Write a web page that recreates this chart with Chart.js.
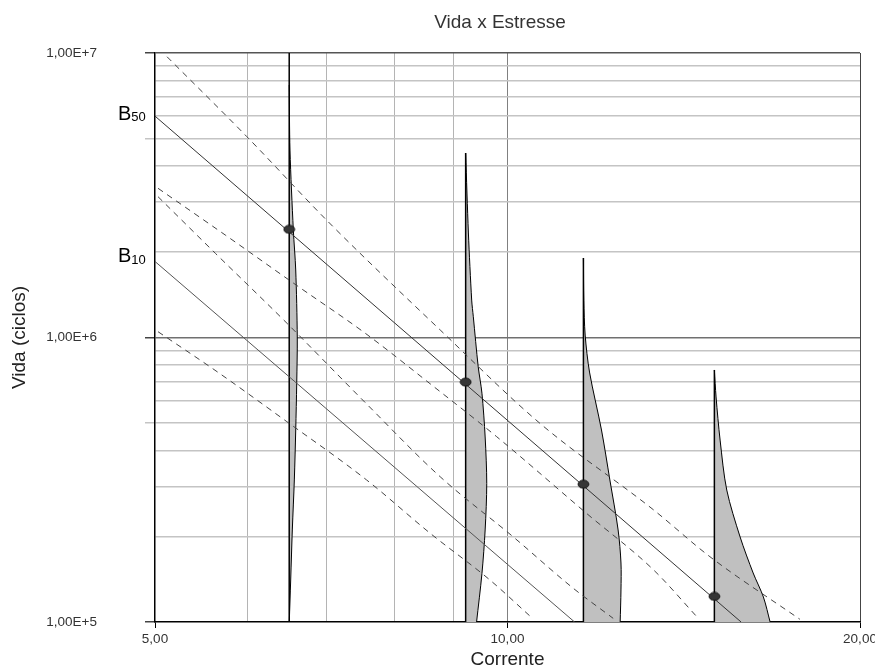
<!DOCTYPE html>
<html>
<head>
<meta charset="utf-8">
<script src="https://cdn.jsdelivr.net/npm/chart.js@4.4.1/dist/chart.umd.min.js"></script>
<style>
  html, body { margin: 0; padding: 0; background: #fff; }
  #wrap { width: 875px; height: 667px; }
</style>
</head>
<body>
<div id="wrap"><canvas id="chart"></canvas></div>
<script>
// eixos
const xTicks = [5, 6, 7, 8, 9, 10, 20];
const xLabeled = [5, 10, 20];
const yTicks = [1e5, 2e5, 3e5, 4e5, 5e5, 6e5, 7e5, 8e5, 9e5,
                1e6, 2e6, 3e6, 4e6, 5e6, 6e6, 7e6, 8e6, 9e6, 1e7];
const yLabeled = [1e5, 1e6, 1e7];
const yMin = 1e5, yMax = 1e7;

// niveis de corrente e vida mediana
const stressLevels = [6.51, 9.21, 11.61, 15.02];
const medianLife = [2.40e6, 6.97e5, 3.05e5, 1.23e5];

// retas B50 e B10
const b50X = [5, 15.83];
const b50Y = [6.0e6, 1.0e5];
const b10X = [5, 11.41];
const b10Y = [1.85e6, 1.0e5];

// limites de confianca (tracejado)
const b50UpX = [5.12, 5.99, 7.03, 8.76, 10.66, 13.33, 14.89, 17.77];
const b50UpY = [9.70e6, 5.08e6, 2.55e6, 1.063e6, 4.99e5, 2.476e5, 1.696e5, 1.022e5];
const b50LoX = [5.03, 5.74, 6.63, 7.56, 8.65, 9.79, 11.68, 13.33, 14.51];
const b50LoY = [3.345e6, 2.293e6, 1.509e6, 1.035e6, 6.72e5, 4.48e5, 2.41e5, 1.523e5, 1.044e5];
const b10UpX = [5.03, 5.63, 6.44, 7.58, 8.76, 10.11, 11.38, 12.31];
const b10UpY = [3.125e6, 1.977e6, 1.152e6, 5.84e5, 3.24e5, 1.994e5, 1.314e5, 1.030e5];
const b10LoX = [5.03, 5.65, 6.48, 7.58, 8.59, 9.66, 10.45];
const b10LoY = [1.048e6, 7.58e5, 5.06e5, 3.157e5, 2.05e5, 1.405e5, 1.05e5];

// curvas de densidade (borda direita)
const pdf1X = [6.51, 6.52, 6.563, 6.594, 6.614, 6.607, 6.594, 6.576, 6.55, 6.529, 6.511];
const pdf1Y = [7.72e6, 4.56e6, 2.387e6, 1.727e6, 1.004e6, 6.92e5, 4.73e5, 3.157e5, 2.106e5, 1.405e5, 1e5];
const pdf2X = [9.21, 9.26, 9.32, 9.35, 9.44, 9.51, 9.57, 9.60, 9.57, 9.51, 9.41];
const pdf2Y = [4.45e6, 2.33e6, 1.354e6, 1.183e6, 7.90e5, 6.37e5, 4.47e5, 3.07e5, 2.106e5, 1.48e5, 1e5];
const pdf3X = [11.61, 11.62, 11.65, 11.75, 12.03, 12.23, 12.43, 12.50, 12.50, 12.48];
const pdf3Y = [1.903e6, 1.35e6, 1.02e6, 7.56e5, 4.73e5, 3.157e5, 2.106e5, 1.612e5, 1.296e5, 1e5];
const pdf4X = [15.02, 15.07, 15.19, 15.39, 15.80, 16.21, 16.54, 16.76];
const pdf4Y = [7.69e5, 6.18e5, 4.36e5, 2.91e5, 1.99e5, 1.487e5, 1.224e5, 1e5];
const pdfTop = [1e7, 4.45e6, 1.903e6, 7.69e5];

const FONT = "'Liberation Sans', Arial, sans-serif";

function pts(xs, ys) {
  return xs.map((x, i) => ({ x: x, y: ys[i] }));
}

// marcador eliptico
function makeDot() {
  const c = document.createElement("canvas");
  c.width = 13; c.height = 10;
  const g = c.getContext("2d");
  g.beginPath();
  g.ellipse(6.5, 5, 5.4, 4, 0, 0, Math.PI * 2);
  g.fillStyle = "#363636";
  g.fill();
  g.lineWidth = 1;
  g.strokeStyle = "#111";
  g.stroke();
  return c;
}

function lineSet(data, color, dash, width) {
  return {
    data: data, showLine: true, borderColor: color, borderWidth: width || 1,
    borderDash: dash || [], pointRadius: 0, fill: false, order: 1,
    cubicInterpolationMode: "monotone",
  };
}

const pdfSets = [[pdf1X, pdf1Y], [pdf2X, pdf2Y], [pdf3X, pdf3Y], [pdf4X, pdf4Y]];

const datasets = [
  {
    data: pts(stressLevels, medianLife), pointStyle: makeDot(), pointRadius: 5,
    showLine: false, order: 0,
  },
  lineSet(pts(b50X, b50Y), "#333"),
  lineSet(pts(b10X, b10Y), "#555"),
  lineSet(pts(b50UpX, b50UpY), "#444", [6, 5]),
  lineSet(pts(b50LoX, b50LoY), "#444", [6, 5]),
  lineSet(pts(b10UpX, b10UpY), "#444", [6, 5]),
  lineSet(pts(b10LoX, b10LoY), "#444", [6, 5]),
];

pdfSets.forEach(([xs, ys], i) => {
  datasets.push({
    data: pts(xs, ys), showLine: true, borderColor: "#000", borderWidth: 1,
    pointRadius: 0, tension: 0.3, fill: false, order: 3,
    pdfBase: stressLevels[i], pdfColor: "#c0c0c0",
  });
  datasets.push({
    data: [{ x: stressLevels[i], y: pdfTop[i] }, { x: stressLevels[i], y: yMin }],
    showLine: true, borderColor: "#000", borderWidth: 1.5, pointRadius: 0, order: 2,
  });
});

// preenchimento cinza das densidades
const pdfFill = {
  id: "pdfFill",
  beforeDatasetDraw(chart, args) {
    const ds = chart.data.datasets[args.index];
    if (ds.pdfBase === undefined) return;
    const line = args.meta.dataset;
    if (line && typeof line.updateControlPoints === "function") {
      line.updateControlPoints(chart.chartArea);
    }
    const p = args.meta.data;
    const xs = chart.scales.x, ys = chart.scales.y;
    const a = chart.chartArea;
    const ctx = chart.ctx;
    ctx.save();
    ctx.beginPath();
    ctx.rect(a.left, a.top, a.right - a.left, a.bottom - a.top);
    ctx.clip();
    ctx.beginPath();
    ctx.moveTo(p[0].x, p[0].y);
    for (let i = 1; i < p.length; i++) {
      const prev = p[i - 1], cur = p[i];
      if (prev.cp2x !== undefined && cur.cp1x !== undefined) {
        ctx.bezierCurveTo(prev.cp2x, prev.cp2y, cur.cp1x, cur.cp1y, cur.x, cur.y);
      } else {
        ctx.lineTo(cur.x, cur.y);
      }
    }
    ctx.lineTo(xs.getPixelForValue(ds.pdfBase), ys.getPixelForValue(yMin));
    ctx.closePath();
    ctx.fillStyle = ds.pdfColor;
    ctx.fill();
    ctx.restore();
  },
};

// titulo e rotulos B50 / B10
const labels = {
  id: "labels",
  afterDraw(chart) {
    const ctx = chart.ctx;
    const a = chart.chartArea;
    const ys = chart.scales.y;
    ctx.save();
    ctx.fillStyle = "#333";
    ctx.font = "19px " + FONT;
    ctx.textAlign = "center";
    ctx.textBaseline = "alphabetic";
    ctx.fillText("Vida x Estresse", 500, 28);

    ctx.textAlign = "left";
    ctx.fillStyle = "#000";
    const bl = [["50", ys.getPixelForValue(b50Y[0]) + 3.5], ["10", ys.getPixelForValue(b10Y[0]) + 1]];
    bl.forEach(([sub, y]) => {
      const x = a.left - 37;
      ctx.font = "20px " + FONT;
      ctx.fillText("B", x, y);
      const w = ctx.measureText("B").width;
      ctx.font = "13px " + FONT;
      ctx.fillText(sub, x + w, y + 1.5);
    });
    ctx.restore();
  },
};

function fmt(v) {
  return v.toFixed(2).replace(".", ",");
}
function fmtE(v) {
  const e = Math.round(Math.log10(v));
  return "1,00E+" + e;
}
function isDecade(v) {
  return yLabeled.some((d) => Math.abs(d - v) / d < 1e-6);
}

new Chart(document.getElementById("chart"), {
  type: "scatter",
  data: { datasets: datasets },
  options: {
    responsive: true,
    maintainAspectRatio: false,
    animation: false,
    events: [],
    layout: { padding: { left: 0, right: 15, top: 53, bottom: 0 } },
    plugins: { legend: { display: false }, tooltip: { enabled: false }, title: { display: false } },
    scales: {
      x: {
        type: "logarithmic",
        min: 5,
        max: 20,
        afterBuildTicks: (s) => { s.ticks = xTicks.map((v) => ({ value: v })); },
        afterFit: (s) => {
          s.paddingLeft = 0; s.paddingRight = 0; s.paddingTop = 0; s.paddingBottom = 0;
          s.height = 45;
        },
        ticks: {
          autoSkip: false, maxRotation: 0, padding: 3, color: "#333",
          font: { family: FONT, size: 13.5 },
          callback: (v) => (xLabeled.includes(v) ? fmt(v) : ""),
        },
        grid: {
          color: (c) => {
            const v = c.tick ? c.tick.value : 0;
            if (v === 5) return "rgba(0,0,0,0)";
            if (v === 10) return "#808080";
            if (v === 20) return "#444";
            return "#b4b4b4";
          },
          lineWidth: 1,
          tickLength: 6,
          tickColor: (c) => (c.tick && xLabeled.includes(c.tick.value) ? "#000" : "rgba(0,0,0,0)"),
        },
        border: { color: "#000", width: 1.5 },
        title: {
          display: true, text: "Corrente", color: "#222",
          font: { family: FONT, size: 19, lineHeight: 0.5 },
          padding: { top: 0, bottom: 2 },
        },
      },
      y: {
        type: "logarithmic",
        min: yMin,
        max: yMax,
        afterBuildTicks: (s) => { s.ticks = yTicks.map((v) => ({ value: v })); },
        afterFit: (s) => {
          s.width = 155;
          s.paddingTop = 0; s.paddingBottom = 0; s.paddingLeft = 0; s.paddingRight = 0;
        },
        ticks: {
          autoSkip: false, padding: 48, color: "#333",
          font: { family: FONT, size: 13.5 },
          callback: (v) => (isDecade(v) ? fmtE(v) : ""),
        },
        grid: {
          color: (c) => {
            const v = c.tick ? c.tick.value : 0;
            if (Math.abs(v - 1e5) < 1) return "rgba(0,0,0,0)";
            if (Math.abs(v - 1e6) < 1) return "#707070";
            if (Math.abs(v - 1e7) < 1) return "#555";
            return "#c4c4c4";
          },
          lineWidth: 1.5,
          tickLength: 10,
          tickColor: (c) => {
            const v = c.tick ? c.tick.value : 0;
            if (isDecade(v)) return "#444";
            if (Math.abs(v - 5e5) < 1 || Math.abs(v - 5e6) < 1) return "#c4c4c4";
            return "rgba(0,0,0,0)";
          },
        },
        border: { color: "#000", width: 1.5 },
        title: {
          display: true, text: "Vida (ciclos)", color: "#222",
          font: { family: FONT, size: 19 },
          padding: { top: 8, bottom: 0 },
        },
      },
    },
  },
  plugins: [pdfFill, labels],
});
</script>
</body>
</html>
